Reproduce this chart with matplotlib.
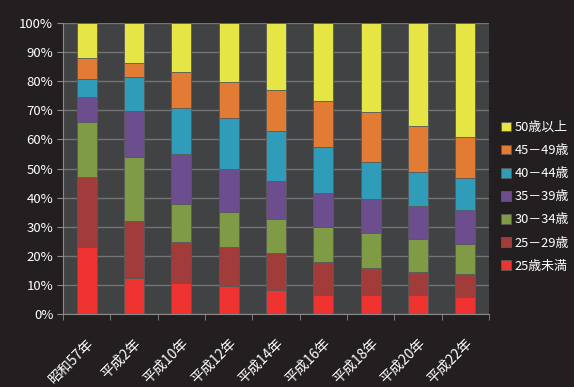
import matplotlib.pyplot as plt
import numpy as np

plt.rcParams['font.family'] = ['Noto Sans CJK JP', 'DejaVu Sans']

years = ['昭和57年', '平成2年', '平成10年', '平成12年', '平成14年',
         '平成16年', '平成18年', '平成20年', '平成22年']
groups = ['25歳未満', '25－29歳', '30－34歳', '35－39歳', '40－44歳', '45－49歳', '50歳以上']
colors = ['#ee3331', '#a13c3b', '#7f9b45', '#6c4e8e', '#2f9cb9', '#e27b34', '#e5e646']

# share of each age group (%) per year
under25 = [23.0, 12.3, 10.8, 9.6, 8.2, 6.5, 6.5, 6.5, 5.7]
age25_29 = [24.0, 19.8, 14.1, 13.3, 12.6, 11.5, 9.2, 8.0, 8.0]
age30_34 = [18.9, 22.0, 12.9, 12.2, 12.0, 12.0, 12.0, 11.2, 10.4]
age35_39 = [8.7, 15.7, 17.2, 14.8, 12.9, 11.7, 11.7, 11.5, 11.6]
age40_44 = [6.2, 11.8, 15.9, 17.3, 17.3, 15.6, 12.9, 11.7, 10.9]
age45_49 = [7.1, 4.5, 12.4, 12.6, 14.0, 15.9, 17.0, 15.7, 14.1]
over50 = [12.1, 13.9, 16.7, 20.2, 23.0, 26.8, 30.7, 35.4, 39.3]

series = [under25, age25_29, age30_34, age35_39, age40_44, age45_49, over50]

fig = plt.figure(figsize=(5.74, 3.87), dpi=100, facecolor='#231f20')
ax = fig.add_axes([63/574, 1 - 314/387, 426/574, 291/387])
ax.set_facecolor('#414244')

x = np.arange(len(years))
bottom = np.zeros(len(years))
handles = []
for vals, col, name in zip(series, colors, groups):
    v = np.array(vals)
    b = ax.bar(x, v, 0.42, bottom=bottom, color=col, edgecolor='#5a5a5a',
               linewidth=0.6, label=name, zorder=3)
    handles.append(b)
    bottom += v

ax.set_xlim(-0.5, len(years) - 0.5)
ax.set_ylim(0, 100)
ax.set_yticks(np.arange(0, 101, 10))
ax.set_yticklabels(['{}%'.format(i) for i in range(0, 101, 10)])
ax.yaxis.grid(True, color='#747474', linewidth=1, zorder=0)
ax.set_axisbelow(True)

ax.set_xticks(x)
ax.set_xticklabels(years, rotation=45, ha='right', rotation_mode='anchor')
ax.set_xticks(np.arange(-0.5, len(years)), minor=True)
ax.tick_params(axis='x', which='major', length=0, pad=16, colors='white', labelsize=10)
ax.tick_params(axis='x', which='minor', length=4, color='#8a8a8a')
ax.tick_params(axis='y', length=4, color='#8a8a8a', colors='white', labelsize=9.5, pad=3)

for s in ['top', 'right']:
    ax.spines[s].set_visible(False)
for s in ['left', 'bottom']:
    ax.spines[s].set_color('#8a8a8a')

fig.legend(handles[::-1], groups[::-1], loc='upper left',
           bbox_to_anchor=(496/574, 1 - 116/387), frameon=False,
           labelcolor='white', fontsize=9.3, handlelength=0.75, handleheight=0.75,
           handletextpad=0.3, labelspacing=0.78, borderaxespad=0)

fig.savefig('out.png', dpi=100, facecolor=fig.get_facecolor())
